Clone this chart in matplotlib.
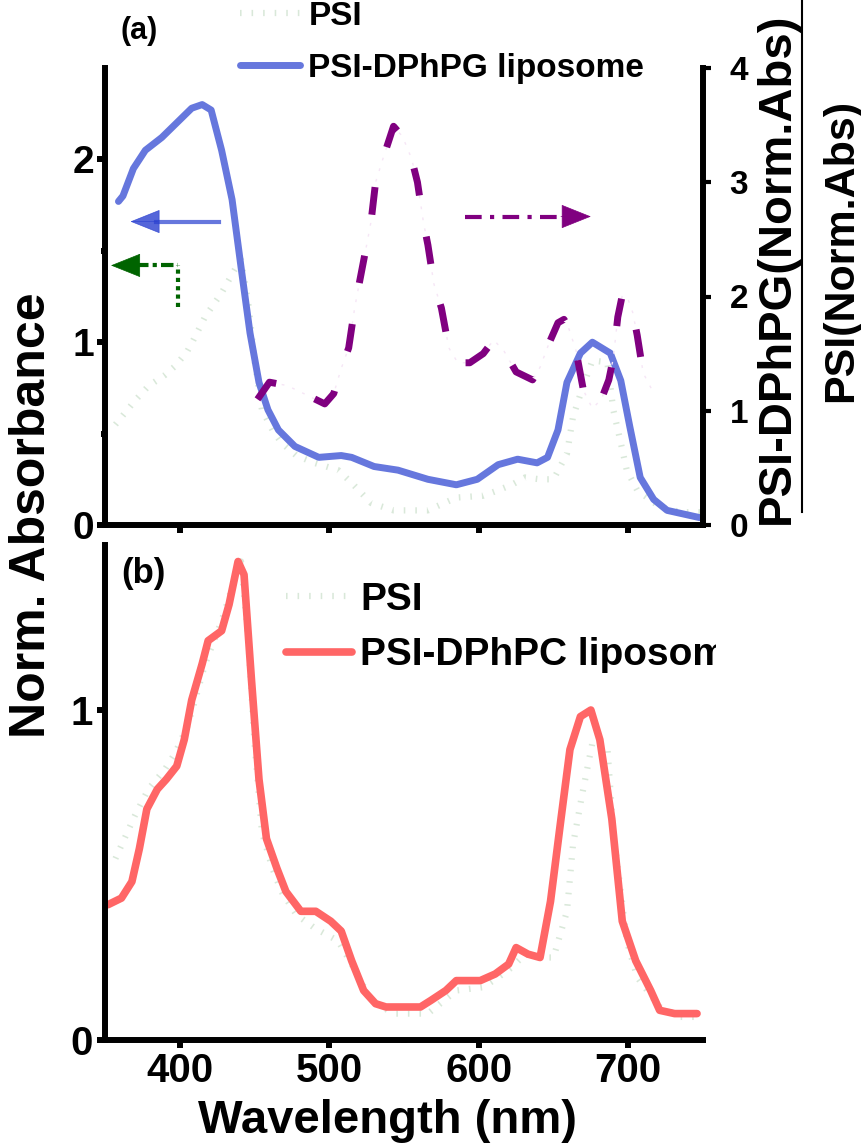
import matplotlib
matplotlib.use('Agg')
import matplotlib.pyplot as plt
from matplotlib.lines import Line2D
from matplotlib.transforms import Bbox, TransformedBbox

plt.rcParams['font.family'] = ['Liberation Sans', 'DejaVu Sans']
plt.rcParams['font.weight'] = 'bold'

# (a) PSI-DPhPG liposome (left axis)
wl_pg = [359, 362, 369, 377, 388, 398, 408, 415, 421, 428, 435, 441, 447, 453, 459,
         466, 477, 493, 508, 515, 530, 546, 566, 585, 599, 613, 626, 639, 646, 653,
         659, 668, 676, 688, 695, 701, 708, 717, 726, 748]
abs_pg = [1.77, 1.80, 1.95, 2.05, 2.12, 2.20, 2.28, 2.30, 2.27, 2.05, 1.78, 1.41, 1.05, 0.78, 0.63,
          0.52, 0.43, 0.37, 0.38, 0.37, 0.32, 0.30, 0.25, 0.22, 0.25, 0.33, 0.36, 0.34, 0.37, 0.52,
          0.78, 0.94, 1.00, 0.94, 0.79, 0.54, 0.26, 0.14, 0.08, 0.04]

# PSI (left axis, faint)
wl_psi = [357, 360, 370, 379, 390, 397, 405, 409, 417, 428, 437, 441, 446, 450, 455,
          462, 468, 478, 490, 506, 515, 528, 543, 566, 585, 603, 613, 622, 631, 641,
          650, 659, 663, 669, 676, 686, 690, 695, 699, 706, 721, 735, 748]
abs_psi = [0.55, 0.58, 0.68, 0.76, 0.82, 0.87, 0.95, 1.01, 1.14, 1.27, 1.40, 1.45, 1.20, 0.90, 0.63,
           0.52, 0.45, 0.38, 0.34, 0.30, 0.23, 0.12, 0.08, 0.08, 0.15, 0.16, 0.19, 0.22, 0.26, 0.25,
           0.25, 0.39, 0.59, 0.74, 0.90, 0.89, 0.63, 0.45, 0.30, 0.19, 0.10, 0.07, 0.07]

# ratio PSI-DPhPG / PSI (right axis)
wl_ratio = [452, 460, 472, 483, 497, 503, 508, 513, 517, 520, 525, 528, 531, 536, 543,
            549, 555, 559, 563, 566, 570, 575, 580, 586, 594, 603, 610, 617, 625, 636,
            641, 647, 653, 657, 660, 665, 670, 676, 682, 687, 690, 693, 696, 700, 703,
            706, 710, 716]
ratio = [1.10, 1.25, 1.22, 1.15, 1.06, 1.15, 1.37, 1.55, 1.90, 2.11, 2.45, 2.66, 3.00, 3.21, 3.49,
         3.40, 3.21, 3.00, 2.65, 2.45, 2.11, 1.90, 1.55, 1.42, 1.42, 1.50, 1.62, 1.52, 1.34, 1.27,
         1.38, 1.59, 1.77, 1.80, 1.73, 1.53, 1.18, 1.02, 1.10, 1.27, 1.46, 1.82, 2.01, 1.97, 1.86,
         1.66, 1.33, 1.18]

# (b) PSI-DPhPC liposome
wl_pc = [352, 361, 368, 373, 378, 385, 391, 398, 403, 408, 415, 419, 425, 428, 433,
         439, 443, 448, 453, 458, 465, 471, 481, 491, 501, 508, 515, 523, 531, 538,
         561, 568, 578, 585, 601, 611, 620, 625, 633, 641, 648, 655, 661, 668, 675,
         681, 689, 696, 705, 715, 721, 731, 746]
abs_pc = [0.41, 0.43, 0.48, 0.58, 0.70, 0.76, 0.79, 0.83, 0.91, 1.03, 1.14, 1.21, 1.23, 1.24, 1.32,
          1.45, 1.41, 1.09, 0.79, 0.61, 0.52, 0.45, 0.39, 0.39, 0.36, 0.33, 0.24, 0.15, 0.11, 0.10,
          0.10, 0.12, 0.15, 0.18, 0.18, 0.20, 0.23, 0.28, 0.26, 0.25, 0.42, 0.67, 0.88, 0.98, 1.00,
          0.91, 0.67, 0.36, 0.24, 0.15, 0.09, 0.08, 0.08]

W, H = 862, 1148
fig = plt.figure(figsize=(W / 100, H / 100), dpi=100)


def rect(x0, y0, x1, y1):
    return [x0 / W, 1 - y1 / H, (x1 - x0) / W, (y1 - y0) / H]


def head(ax, tip, tail, color, alpha=1.0):
    # solid arrow head only
    ax.annotate('', xy=tip, xytext=tail,
                arrowprops=dict(arrowstyle='-|>,head_length=1.0,head_width=0.4',
                                mutation_scale=20, lw=0.5, color=color, alpha=alpha,
                                shrinkA=0, shrinkB=0))


blue = '#6677dd'
red = '#ff6666'
purple = '#800080'
faint = '#d9e8d9'
green = '#006400'
spine_w = 4.3

# ---- panel (a)
ax1 = fig.add_axes(rect(105, 68, 703, 525))
ax2 = ax1.twinx()

l_psi, = ax1.plot(wl_psi, abs_psi, color=faint, lw=4.5, linestyle=(0, (0.25, 1.6)),
                  solid_capstyle='butt', label='PSI')
l_pg, = ax1.plot(wl_pg, abs_pg, color=blue, lw=5, solid_capstyle='round',
                 label='PSI-DPhPG liposome')
ax2.plot(wl_ratio, ratio, color='#f6e6f6', lw=1, linestyle=(0, (2, 6)))
ax2.plot(wl_ratio, ratio, color=purple, lw=5, linestyle=(0, (4, 6)))

ax1.set_xlim(350, 750)
ax1.set_ylim(0, 2.5)
ax2.set_ylim(0, 4)
ax1.set_yticks([0, 1, 2])
ax1.set_yticks([0.5, 1.5], minor=True)
ax2.set_yticks([0, 1, 2, 3, 4])
ax1.set_xticks([400, 500, 600, 700])

for s in ['top', 'right']:
    ax1.spines[s].set_visible(False)
for s in ['top', 'left', 'bottom']:
    ax2.spines[s].set_visible(False)
for s in ['left', 'bottom']:
    ax1.spines[s].set_linewidth(spine_w)
ax2.spines['right'].set_linewidth(spine_w)

ax1.tick_params(axis='y', which='major', length=6, width=spine_w, labelsize=28, pad=2)
ax1.tick_params(axis='y', which='minor', length=3, width=spine_w)
ax1.tick_params(axis='x', which='major', length=6, width=spine_w, labelbottom=False)
ax2.tick_params(axis='y', length=6, width=3, labelsize=24, pad=13)

# arrows: blue -> left axis
ax1.plot([384, 426], [1.66, 1.66], color=blue, lw=3)
head(ax1, (367, 1.66), (385, 1.66), '#2a40d0', alpha=0.8)
# green -> left axis
ax1.plot([399, 399], [1.19, 1.42], color=green, lw=3, linestyle=(0, (1, 1)))
ax1.plot([371, 399], [1.42, 1.42], color=green, lw=3, linestyle=(0, (3, 1, 1, 1)))
head(ax1, (354, 1.42), (373, 1.42), green)
# purple -> right axis
ax2.plot([591, 657], [2.70, 2.70], color=purple, lw=3, linestyle=(0, (4, 2, 1, 2)))
head(ax2, (675, 2.70), (655, 2.70), purple)

leg1 = ax1.legend(handles=[l_psi, l_pg], loc='upper left',
                  bbox_to_anchor=(240 / W, 1 - 1 / H), bbox_transform=fig.transFigure,
                  frameon=False, fontsize=24, handlelength=1.8, handletextpad=0.25,
                  labelspacing=0.62, borderpad=0, borderaxespad=0)

fig.text(139 / W, 1 - 31 / H, '(a)', fontsize=22, ha='center', va='center')

# ---- panel (b)
ax3 = fig.add_axes(rect(105, 545, 703, 1040))
l_psi_b, = ax3.plot(wl_psi, abs_psi, color=faint, lw=4.5, linestyle=(0, (0.25, 1.6)),
                    label='PSI')
l_pc, = ax3.plot(wl_pc, abs_pc, color=red, lw=5.5, solid_capstyle='round',
                 label='PSI-DPhPC liposome')
ax3.set_xlim(350, 750)
ax3.set_ylim(0, 1.5)
ax3.set_yticks([0, 1])
ax3.set_xticks([400, 500, 600, 700])
ax3.set_xticks([350, 450, 550, 650, 750], minor=True)
for s in ['top', 'right']:
    ax3.spines[s].set_visible(False)
for s in ['left', 'bottom']:
    ax3.spines[s].set_linewidth(spine_w)
ax3.tick_params(axis='both', which='major', length=6, width=spine_w, labelsize=29, pad=3)
ax3.tick_params(axis='x', which='minor', length=2, width=spine_w)
ax3.set_xlabel('Wavelength (nm)', fontsize=34, fontweight='bold')
ax3.xaxis.set_label_coords((388 - 105) / 598, -0.12)

leg2 = ax3.legend(handles=[l_psi_b, l_pc], loc='upper left',
                  bbox_to_anchor=(286 / W, 1 - 582 / H), bbox_transform=fig.transFigure,
                  frameon=False, fontsize=28, handlelength=1.7, handletextpad=0.2,
                  labelspacing=0.5, borderpad=0, borderaxespad=0)
clip = TransformedBbox(Bbox([[0, 0], [716 / W, 1]]), fig.transFigure)
for t in leg2.get_texts():
    t.set_clip_box(clip)
    t.set_clip_on(True)

fig.text(143 / W, 1 - 573 / H, '(b)', fontsize=25, ha='center', va='center')

# shared / right labels
fig.text(32 / W, 1 - 515 / H, 'Norm. Absorbance', fontsize=36, rotation=90,
         ha='center', va='center')
fig.text(777 / W, 1 - 524 / H, 'PSI-DPhPG(Norm.Abs)', fontsize=34, rotation=90,
         ha='center', va='bottom')
fig.add_artist(Line2D([802 / W, 802 / W], [1 - 512 / H, 1.0], color='black', lw=1.5))
fig.text(841 / W, 1 - 250 / H, 'PSI(Norm.Abs)', fontsize=31, rotation=90,
         ha='center', va='center')

fig.savefig('out.png', dpi=100)
